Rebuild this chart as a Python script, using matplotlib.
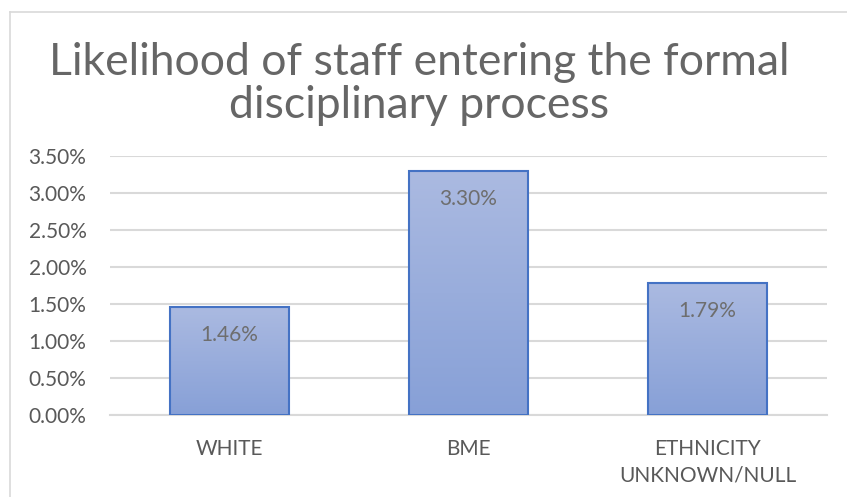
import numpy as np
import matplotlib.pyplot as plt
import matplotlib.colors as mcolors
from matplotlib.lines import Line2D

# Data
categories = ["WHITE", "BME", "ETHNICITY\nUNKNOWN/NULL"]
values = [1.46, 3.30, 1.79]
labels = ["1.46%", "3.30%", "1.79%"]
yticks = [0.0, 0.5, 1.0, 1.5, 2.0, 2.5, 3.0, 3.5]

plt.rcParams['font.family'] = ['Lato', 'DejaVu Sans']
txt = "#595959"

fig = plt.figure(figsize=(8.47, 4.97), dpi=100)
ax = fig.add_axes([0.1299, 0.165, 0.8465, 0.5211])

x = np.arange(len(categories))
bars = ax.bar(x, values, width=0.5, color="none", edgecolor="#4472c4",
              linewidth=1.5, zorder=3)

# vertical gradient fill, light at the top of each bar
cmap = mcolors.LinearSegmentedColormap.from_list("g", ["#87a0d7", "#abbae1"])
grad = np.linspace(0, 1, 256).reshape(-1, 1)
for b in bars:
    x0, w, h = b.get_x(), b.get_width(), b.get_height()
    im = ax.imshow(grad, cmap=cmap, origin="lower", aspect="auto",
                   extent=[x0, x0 + w, 0, h], zorder=2)
    im.set_clip_path(b)

# data labels, 28 px below the bar top
for xi, v, lab in zip(x, values, labels):
    ax.annotate(lab, (xi, v), xytext=(0, -28 * 0.72), textcoords="offset points",
                ha="center", va="center", fontsize=15, color="#6e6e6e",
                zorder=4)

ax.set_xlim(-0.5, 2.5)
ax.set_ylim(0, 3.5)
ax.set_yticks(yticks)
ax.set_yticklabels(["%.2f%%" % t for t in yticks])
ax.set_xticks(x)
ax.set_xticklabels(categories, linespacing=1.4)
ax.tick_params(axis="both", length=0, colors=txt, labelsize=15)
ax.tick_params(axis="y", pad=17)
ax.tick_params(axis="x", pad=17)
ax.yaxis.grid(True, color="#d9d9d9", linewidth=1.5, zorder=0)
ax.set_axisbelow(True)
for s in ["top", "right", "left"]:
    ax.spines[s].set_visible(False)
ax.spines["bottom"].set_color("#d9d9d9")
ax.spines["bottom"].set_linewidth(1.5)

fig.text(419 / 847, 1 - 84 / 497,
         "Likelihood of staff entering the formal\ndisciplinary process",
         ha="center", va="center", fontsize=32, color="#666666", linespacing=1.05)

# chart area border (left and top visible)
fig.add_artist(Line2D([10 / 847, 10 / 847], [0, 1 - 12 / 497],
                      transform=fig.transFigure, color="#d9d9d9", linewidth=1.2))
fig.add_artist(Line2D([10 / 847, 1], [1 - 12 / 497, 1 - 12 / 497],
                      transform=fig.transFigure, color="#d9d9d9", linewidth=1.2))

fig.savefig("out.png", dpi=100, facecolor="white")
